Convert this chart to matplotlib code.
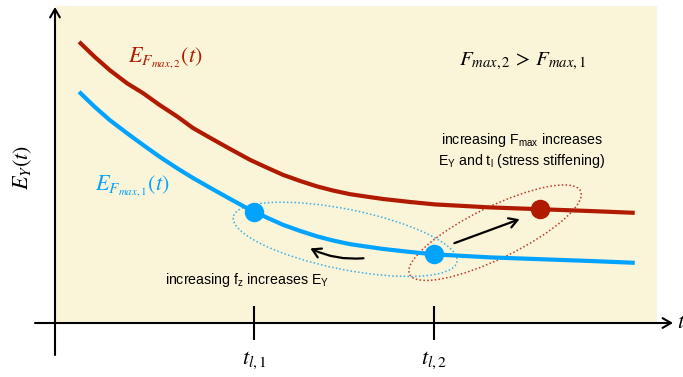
import matplotlib
matplotlib.use("Agg")
import matplotlib.pyplot as plt
from matplotlib.patches import Ellipse

# (time t, stiffness E_Y, arbitrary units)
t = [0.40, 0.66, 0.91, 1.20, 1.46, 1.74, 2.03, 2.29, 2.57, 2.91, 3.24, 3.50,
     3.79, 4.07, 4.35, 4.62, 4.90, 5.17, 5.45, 5.90, 6.31, 7.23, 8.06, 8.89, 9.63]
E_fmax2 = [4.67, 4.42, 4.20, 3.98, 3.82, 3.62, 3.43, 3.24, 3.08, 2.89, 2.71, 2.59,
           2.46, 2.36, 2.27, 2.20, 2.14, 2.10, 2.06, 2.01, 1.97, 1.92, 1.89, 1.86, 1.83]
E_fmax1 = [3.84, 3.59, 3.37, 3.15, 2.96, 2.76, 2.57, 2.41, 2.25, 2.06, 1.88, 1.76,
           1.63, 1.53, 1.44, 1.37, 1.31, 1.27, 1.23, 1.18, 1.14, 1.09, 1.06, 1.03, 1.00]

t_l = [3.31, 6.30]          # t_l,1 and t_l,2
E_blue_pts = [1.85, 1.15]   # points on E_Fmax,1 at t_l,1 and t_l,2
t_red_pt, E_red_pt = 8.06, 1.89
tick_labels = [r"$t_{l,1}$", r"$t_{l,2}$"]

RED = "#B01A00"
BLUE = "#00A3FF"
BG = "#FAF4D8"

plt.rcParams["mathtext.fontset"] = "stix"
plt.rcParams["mathtext.rm"] = "Liberation Sans"
plt.rcParams["mathtext.it"] = "Liberation Sans:italic"
plt.rcParams["font.family"] = ["Liberation Sans", "DejaVu Sans"]

fig = plt.figure(figsize=(6.83, 3.77), dpi=100)
ax = fig.add_axes([55 / 683, 54 / 377, 602 / 683, 317 / 377])
ax.set_facecolor(BG)
ax.set_xlim(0, 10)
ax.set_ylim(0, 317 / 60.2)
for s in ax.spines.values():
    s.set_visible(False)
ax.set_yticks([])

# curves
ax.plot(t, E_fmax2, color=RED, lw=3, solid_capstyle="butt",
        solid_joinstyle="round", zorder=3)
ax.plot(t, E_fmax1, color=BLUE, lw=3, solid_capstyle="butt",
        solid_joinstyle="round", zorder=3)
ax.plot(t_l, E_blue_pts, "o", color=BLUE, ms=13, zorder=4)
ax.plot([t_red_pt], [E_red_pt], "o", color=RED, ms=13, zorder=4)

# dotted ellipses
ax.add_patch(Ellipse((4.82, 1.39), 3.79, 1.0, angle=-11.4, fill=False,
                     ls=(0, (1, 1.5)), lw=1.1, color="#3AAEEA", zorder=2))
ax.add_patch(Ellipse((7.31, 1.50), 3.16, 0.86, angle=26, fill=False,
                     ls=(0, (1, 1.5)), lw=1.1, color="#C0392B", zorder=2))

# arrows
ax.annotate("", xy=(4.20, 1.26), xytext=(5.17, 1.08),
            arrowprops=dict(arrowstyle="->,head_length=0.6,head_width=0.35",
                            lw=1.6, color="black",
                            connectionstyle="arc3,rad=-0.15"), zorder=5)
ax.annotate("", xy=(7.76, 1.74), xytext=(6.59, 1.31),
            arrowprops=dict(arrowstyle="->,head_length=0.6,head_width=0.35",
                            lw=1.6, color="black"), zorder=5)

# labels
ax.text(1.83, 4.40, r"$E_{F_{max,2}}(t)$", color=RED, fontsize=16,
        ha="center", va="center")
ax.text(1.28, 2.26, r"$E_{F_{max,1}}(t)$", color=BLUE, fontsize=16,
        ha="center", va="center")
ax.text(7.76, 4.34, r"$F_{max,2}\,>\,F_{max,1}$", color="black", fontsize=15,
        ha="center", va="center")
ax.text(7.76, 2.87,
        "increasing $\\mathrm{F_{max}}$ increases\n$\\mathrm{E_Y}$ and $\\mathrm{t_l}$ (stress stiffening)",
        fontsize=10.2, ha="center", va="center", linespacing=1.25,
        math_fontfamily="custom")
ax.text(3.19, 0.71, "increasing $\\mathrm{f_z}$ increases $\\mathrm{E_Y}$",
        fontsize=10.2, ha="center", va="center", math_fontfamily="custom")

# ticks on the time axis
ax.set_xticks(t_l)
ax.set_xticklabels(tick_labels, fontsize=16)
ax.tick_params(axis="x", direction="inout", length=24, width=1.5, pad=7)

# axes with arrow heads (figure pixels)
arrow = dict(arrowstyle="->,head_length=0.6,head_width=0.35", lw=1.5,
             color="black", shrinkA=0, shrinkB=0)
ax.annotate("", xy=(55, 370), xytext=(55, 22), xycoords="figure pixels",
            textcoords="figure pixels", arrowprops=arrow, annotation_clip=False)
ax.annotate("", xy=(673, 54), xytext=(35, 54), xycoords="figure pixels",
            textcoords="figure pixels", arrowprops=arrow, annotation_clip=False)

fig.text(23 / 683, (377 - 167) / 377, r"$E_Y(t)$", rotation=90, fontsize=16,
         ha="center", va="center")
fig.text(677 / 683, 54 / 377, r"$t$", fontsize=16, ha="left", va="center")

fig.savefig("out.png", dpi=100)
